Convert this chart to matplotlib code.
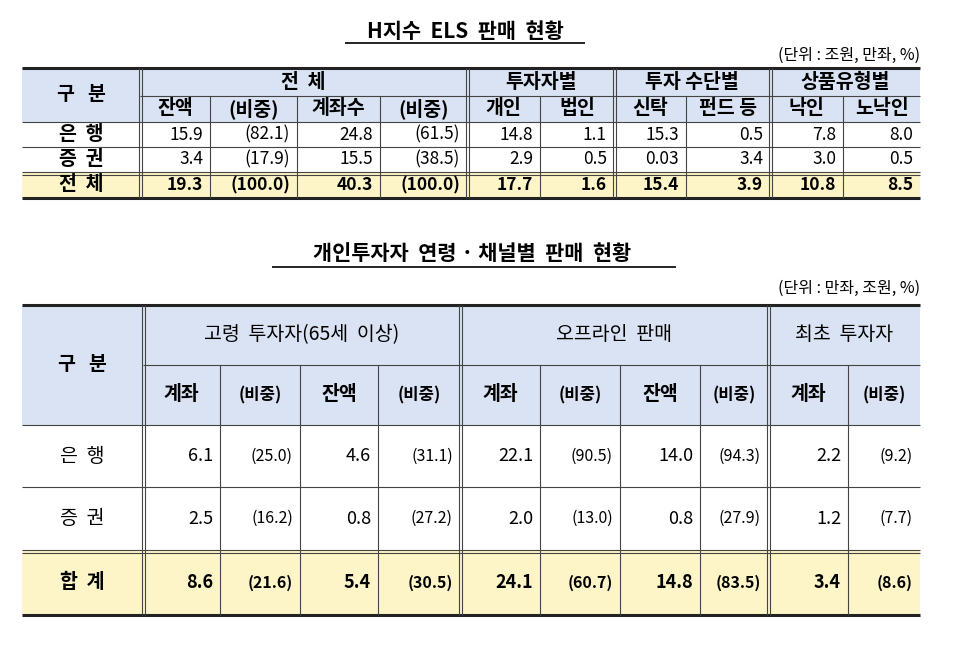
import matplotlib
matplotlib.use("Agg")
import matplotlib.pyplot as plt
from matplotlib.patches import Rectangle

plt.rcParams['font.family'] = ['Noto Sans CJK KR', 'DejaVu Sans']

# ---- data table 1 ----
t1_title = "H지수  ELS  판매  현황"
t1_unit = "(단위 : 조원, 만좌, %)"
t1_groups = ["전  체", "투자자별", "투자 수단별", "상품유형별"]
t1_sub = ["잔액", "(비중)", "계좌수", "(비중)", "개인", "법인", "신탁", "펀드 등", "낙인", "노낙인"]
t1_rows = ["은  행", "증  권", "전  체"]
t1_bank = ["15.9", "(82.1)", "24.8", "(61.5)", "14.8", "1.1", "15.3", "0.5", "7.8", "8.0"]
t1_sec = ["3.4", "(17.9)", "15.5", "(38.5)", "2.9", "0.5", "0.03", "3.4", "3.0", "0.5"]
t1_tot = ["19.3", "(100.0)", "40.3", "(100.0)", "17.7", "1.6", "15.4", "3.9", "10.8", "8.5"]

# ---- data table 2 ----
t2_title = "개인투자자  연령 · 채널별  판매  현황"
t2_unit = "(단위 : 만좌, 조원, %)"
t2_groups = ["고령  투자자(65세  이상)", "오프라인  판매", "최초  투자자"]
t2_sub = ["계좌", "(비중)", "잔액", "(비중)", "계좌", "(비중)", "잔액", "(비중)", "계좌", "(비중)"]
t2_rows = ["은  행", "증  권", "합  계"]
t2_bank = ["6.1", "(25.0)", "4.6", "(31.1)", "22.1", "(90.5)", "14.0", "(94.3)", "2.2", "(9.2)"]
t2_sec = ["2.5", "(16.2)", "0.8", "(27.2)", "2.0", "(13.0)", "0.8", "(27.9)", "1.2", "(7.7)"]
t2_tot = ["8.6", "(21.6)", "5.4", "(30.5)", "24.1", "(60.7)", "14.8", "(83.5)", "3.4", "(8.6)"]

HEAD = "#dae3f3"
YEL = "#fdf5c8"

fig = plt.figure(figsize=(9.6, 6.6), dpi=100)
ax = fig.add_axes([0, 0, 1, 1])
ax.set_xlim(0, 960)
ax.set_ylim(660, 0)
ax.axis("off")


def rect(x0, y0, x1, y1, c):
    ax.add_patch(Rectangle((x0, y0), x1 - x0, y1 - y0, facecolor=c, edgecolor="none", zorder=0))


def hline(x0, x1, y, lw=0.8, c="#444444"):
    ax.plot([x0, x1], [y, y], color=c, lw=lw, zorder=2, solid_capstyle="butt")


def vline(x, y0, y1, lw=0.8, c="#444444"):
    ax.plot([x, x], [y0, y1], color=c, lw=lw, zorder=2, solid_capstyle="butt")


def draw_table(xs, ys, groups, gspan, sub, rows, data, hdr_split, fs_head, fs_data, fs_sub, sub_small):
    x0, x1 = xs[0], xs[-1]
    y_top, y_mid, y_hb = ys[0], ys[1], ys[2]
    rect(x0, y_top, x1, y_hb, HEAD)
    rect(x0, ys[-2], x1, ys[-1], YEL)
    hline(x0, x1, y_top, 2.2, "#222222")
    hline(x0, x1, ys[-1], 2.2, "#222222")
    hline(xs[1], x1, y_mid)
    for y in ys[2:-1]:
        hline(x0, x1, y, 0.8)
    hline(x0, x1, ys[-2] + 2.5, 0.8)
    gb = [1]
    acc = 1
    for s in gspan:
        acc += s
        gb.append(acc)
    for i, x in enumerate(xs[1:-1], start=1):
        if i in gb:
            vline(x - 1.5, y_top, ys[-1], 0.8)
            vline(x + 1.5, y_top, ys[-1], 0.8)
        else:
            vline(x, y_mid, ys[-1], 0.8)
    ax.text((xs[0] + xs[1]) / 2, (y_top + y_hb) / 2, "구   분", ha="center", va="center",
            fontsize=fs_head, fontweight="bold")
    for g, a, b in zip(groups, gb[:-1], gb[1:]):
        ax.text((xs[a] + xs[b]) / 2, (y_top + y_mid) / 2, g, ha="center", va="center",
                fontsize=fs_head, fontweight="bold" if not hdr_split else "normal")
    for j, s in enumerate(sub):
        small = sub_small and s.startswith("(")
        ax.text((xs[j + 1] + xs[j + 2]) / 2, (y_mid + y_hb) / 2, s, ha="center", va="center",
                fontsize=fs_sub - (2 if small else 0), fontweight="bold")
    for r, (lab, vals) in enumerate(zip(rows, data)):
        yc = (ys[2 + r] + ys[3 + r]) / 2
        bold = r == len(rows) - 1
        ax.text((xs[0] + xs[1]) / 2, yc, lab, ha="center", va="center", fontsize=fs_head,
                fontweight="bold" if (bold or not hdr_split) else "normal")
        for j, v in enumerate(vals):
            small = hdr_split and v.startswith("(")
            ax.text(xs[j + 2] - 7, yc, v, ha="right", va="center",
                    fontsize=fs_data - (1.5 if small else 0),
                    fontweight="bold" if bold else "normal")


# table 1
ax.text(465, 31, t1_title, ha="center", va="center", fontsize=15, fontweight="bold")
hline(345, 585, 43, 1.2, "black")
ax.text(920, 55, t1_unit, ha="right", va="center", fontsize=11.5)
xs1 = [22, 140, 210, 297, 380, 467, 540, 614, 686, 770, 843, 920]
ys1 = [68, 96, 122, 147, 172, 198]
draw_table(xs1, ys1, t1_groups, [4, 2, 2, 2], t1_sub, t1_rows, [t1_bank, t1_sec, t1_tot],
           False, 14, 12.5, 14, False)

# table 2
ax.text(472, 254, t2_title, ha="center", va="center", fontsize=15, fontweight="bold")
hline(272, 676, 267, 1.2, "black")
ax.text(920, 288, t2_unit, ha="right", va="center", fontsize=11.5)
xs2 = [22, 143, 220, 300, 378, 460, 540, 620, 700, 768, 848, 920]
ys2 = [305, 365, 425, 487, 550, 615]
draw_table(xs2, ys2, t2_groups, [4, 4, 2], t2_sub, t2_rows, [t2_bank, t2_sec, t2_tot],
           True, 14, 13, 14, True)

fig.savefig("out.png", dpi=100)
